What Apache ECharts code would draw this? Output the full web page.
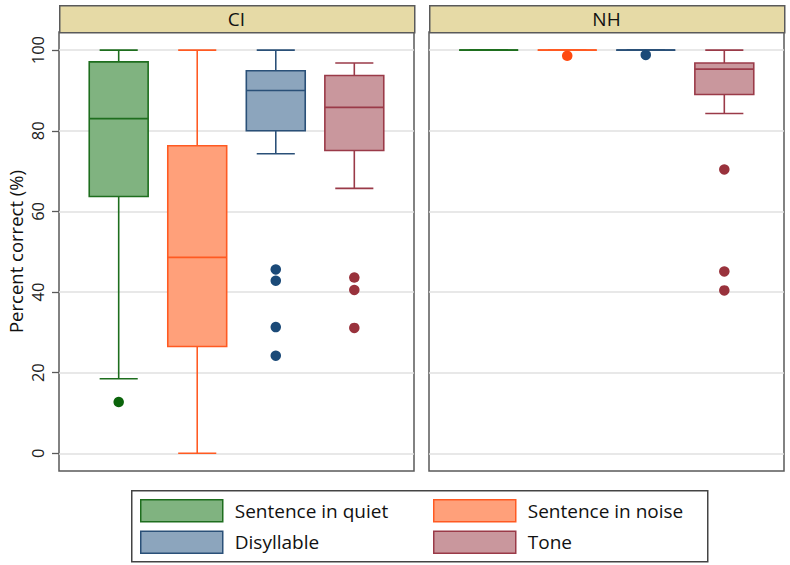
<!DOCTYPE html>
<html>
<head>
<meta charset="utf-8">
<script src="https://cdn.jsdelivr.net/npm/echarts@6/dist/echarts.min.js"></script>
<style>html,body{margin:0;padding:0;background:#fff}#c{width:790px;height:565px}</style>
</head>
<body>
<div id="c"></div>
<script>
// ---- data ----
const categories = ['Sentence in quiet', 'Sentence in noise', 'Disyllable', 'Tone'];
const panels = ['CI', 'NH'];
// [lower whisker, Q1, median, Q3, upper whisker]
const ciStats = [
  [18.5, 63.7, 83.0, 97.1, 100],
  [0, 26.5, 48.6, 76.3, 100],
  [74.3, 80.0, 90.0, 94.9, 100],
  [65.7, 75.1, 85.8, 93.7, 96.8]
];
const nhStats = [
  [100, 100, 100, 100, 100],
  [100, 100, 100, 100, 100],
  [100, 100, 100, 100, 100],
  [84.3, 89.0, 95.3, 96.8, 100]
];
const ciOutliers = [[12.7], [], [45.6, 42.8, 31.3, 24.2], [43.6, 40.5, 31.1]];
const nhOutliers = [[], [98.6], [98.8], [70.4, 45.1, 40.4]];
const yTicks = [0, 20, 40, 60, 80, 100];
const yTitle = 'Percent correct (%)';

// ---- styles ----
const fills = ['#80b380', '#ffa07a', '#8ca5bd', '#c9979d'];
const strokes = ['#1e6e1e', '#ff5a22', '#2a5078', '#9a3a48'];
const dotColors = ['#0b640b', '#ff4a10', '#1b4a78', '#99323c'];
const FONT = 'Open Sans';
const boxW = 0.75, capW = 0.485;
const gridTop = 32, gridH = 439, gridW = 355;
const gridLefts = [59, 429];

const statsByPanel = [ciStats, nhStats];
const outByPanel = [ciOutliers, nhOutliers];

function makeRender(ci) {
  return function (params, api) {
    const x = api.value(0);
    const lo = api.value(1), q1 = api.value(2), md = api.value(3), q3 = api.value(4), hi = api.value(5);
    const pLo = api.coord([x, lo]), pQ1 = api.coord([x, q1]), pMd = api.coord([x, md]),
          pQ3 = api.coord([x, q3]), pHi = api.coord([x, hi]);
    const cx = pMd[0];
    const hb = api.size([boxW, 0])[0] / 2;
    const hc = api.size([capW, 0])[0] / 2;
    const ls = { stroke: strokes[ci], lineWidth: 1.6, fill: null };
    return {
      type: 'group',
      children: [
        { type: 'line', shape: { x1: cx, y1: pQ3[1], x2: cx, y2: pHi[1] }, style: ls },
        { type: 'line', shape: { x1: cx, y1: pQ1[1], x2: cx, y2: pLo[1] }, style: ls },
        { type: 'line', shape: { x1: cx - hc, y1: pHi[1], x2: cx + hc, y2: pHi[1] }, style: ls },
        { type: 'line', shape: { x1: cx - hc, y1: pLo[1], x2: cx + hc, y2: pLo[1] }, style: ls },
        { type: 'rect', shape: { x: cx - hb, y: pQ3[1], width: 2 * hb, height: pQ1[1] - pQ3[1] },
          style: { fill: fills[ci], stroke: strokes[ci], lineWidth: 1.6 } },
        { type: 'line', shape: { x1: cx - hb, y1: pMd[1], x2: cx + hb, y2: pMd[1] }, style: ls }
      ]
    };
  };
}

const series = [];
panels.forEach((p, pi) => {
  categories.forEach((name, ci) => {
    series.push({
      type: 'custom', name: name, xAxisIndex: pi, yAxisIndex: pi,
      renderItem: makeRender(ci),
      encode: { x: 0, y: [1, 2, 3, 4, 5] },
      itemStyle: { color: fills[ci], borderColor: strokes[ci] },
      data: [[ci + 1].concat(statsByPanel[pi][ci])],
      silent: true, z: 2
    });
  });
  categories.forEach((name, ci) => {
    series.push({
      type: 'scatter', name: name, xAxisIndex: pi, yAxisIndex: pi,
      symbol: 'circle', symbolSize: 10.5,
      itemStyle: { color: dotColors[ci], opacity: 1 },
      data: outByPanel[pi][ci].map(v => [ci + 1, v]),
      silent: true, z: 3
    });
  });
});

const grids = gridLefts.map(l => ({
  left: l, top: gridTop, width: gridW, height: gridH,
  show: true, borderColor: '#5a5a5a', borderWidth: 1.5, backgroundColor: '#fff'
}));
const xAxes = gridLefts.map((l, i) => ({
  type: 'value', gridIndex: i, min: 0.24, max: 4.76, show: false
}));
const yAxes = gridLefts.map((l, i) => ({
  type: 'value', gridIndex: i, min: -4.4, max: 104.5,
  name: i === 0 ? yTitle : '',
  nameLocation: 'middle', nameGap: 34,
  nameTextStyle: { fontFamily: FONT, fontSize: 18.5, color: '#111' },
  axisLine: { show: false },
  axisTick: { show: i === 0, length: 7, customValues: yTicks, lineStyle: { color: '#5a5a5a', width: 1.3 } },
  axisLabel: { show: i === 0, customValues: yTicks, rotate: 90, margin: 13,
    fontFamily: FONT, fontSize: 16.5, color: '#222' },
  splitLine: { show: true, lineStyle: { color: '#e0e0e0', width: 1.5 } }
}));

const graphic = [];
gridLefts.forEach((l, i) => {
  graphic.push({ type: 'rect', left: l, top: 5, shape: { width: gridW, height: 27 },
    style: { fill: '#e6daa6', stroke: '#5a5a5a', lineWidth: 1.5 }, z: 10 });
  graphic.push({ type: 'text', x: l + gridW / 2, y: 18.5,
    style: { text: panels[i], fontFamily: FONT, fontSize: 19, fill: '#111', align: 'center', verticalAlign: 'middle' }, z: 11 });
});
graphic.push({ type: 'rect', left: 131, top: 490, shape: { width: 576, height: 71 },
  style: { fill: '#fff', stroke: '#444', lineWidth: 1.5 }, z: -1 });

function legendData(idx) {
  return idx.map(ci => ({ name: categories[ci], icon: 'rect',
    itemStyle: { color: fills[ci], borderColor: strokes[ci], borderWidth: 1.5 } }));
}
const legendCommon = {
  orient: 'vertical', top: 499, itemWidth: 82, itemHeight: 22, itemGap: 8, padding: 0,
  selectedMode: false,
  textStyle: { fontFamily: FONT, fontSize: 19, color: '#111', padding: [0, 0, 0, 7] }
};
const legends = [
  Object.assign({}, legendCommon, { left: 140, data: legendData([0, 2]) }),
  Object.assign({}, legendCommon, { left: 433, data: legendData([1, 3]) })
];

const chart = echarts.init(document.getElementById('c'), null, { renderer: 'svg' });
chart.setOption({
  animation: false,
  backgroundColor: '#fff',
  grid: grids, xAxis: xAxes, yAxis: yAxes,
  legend: legends, graphic: graphic, series: series
});
</script>
</body>
</html>
